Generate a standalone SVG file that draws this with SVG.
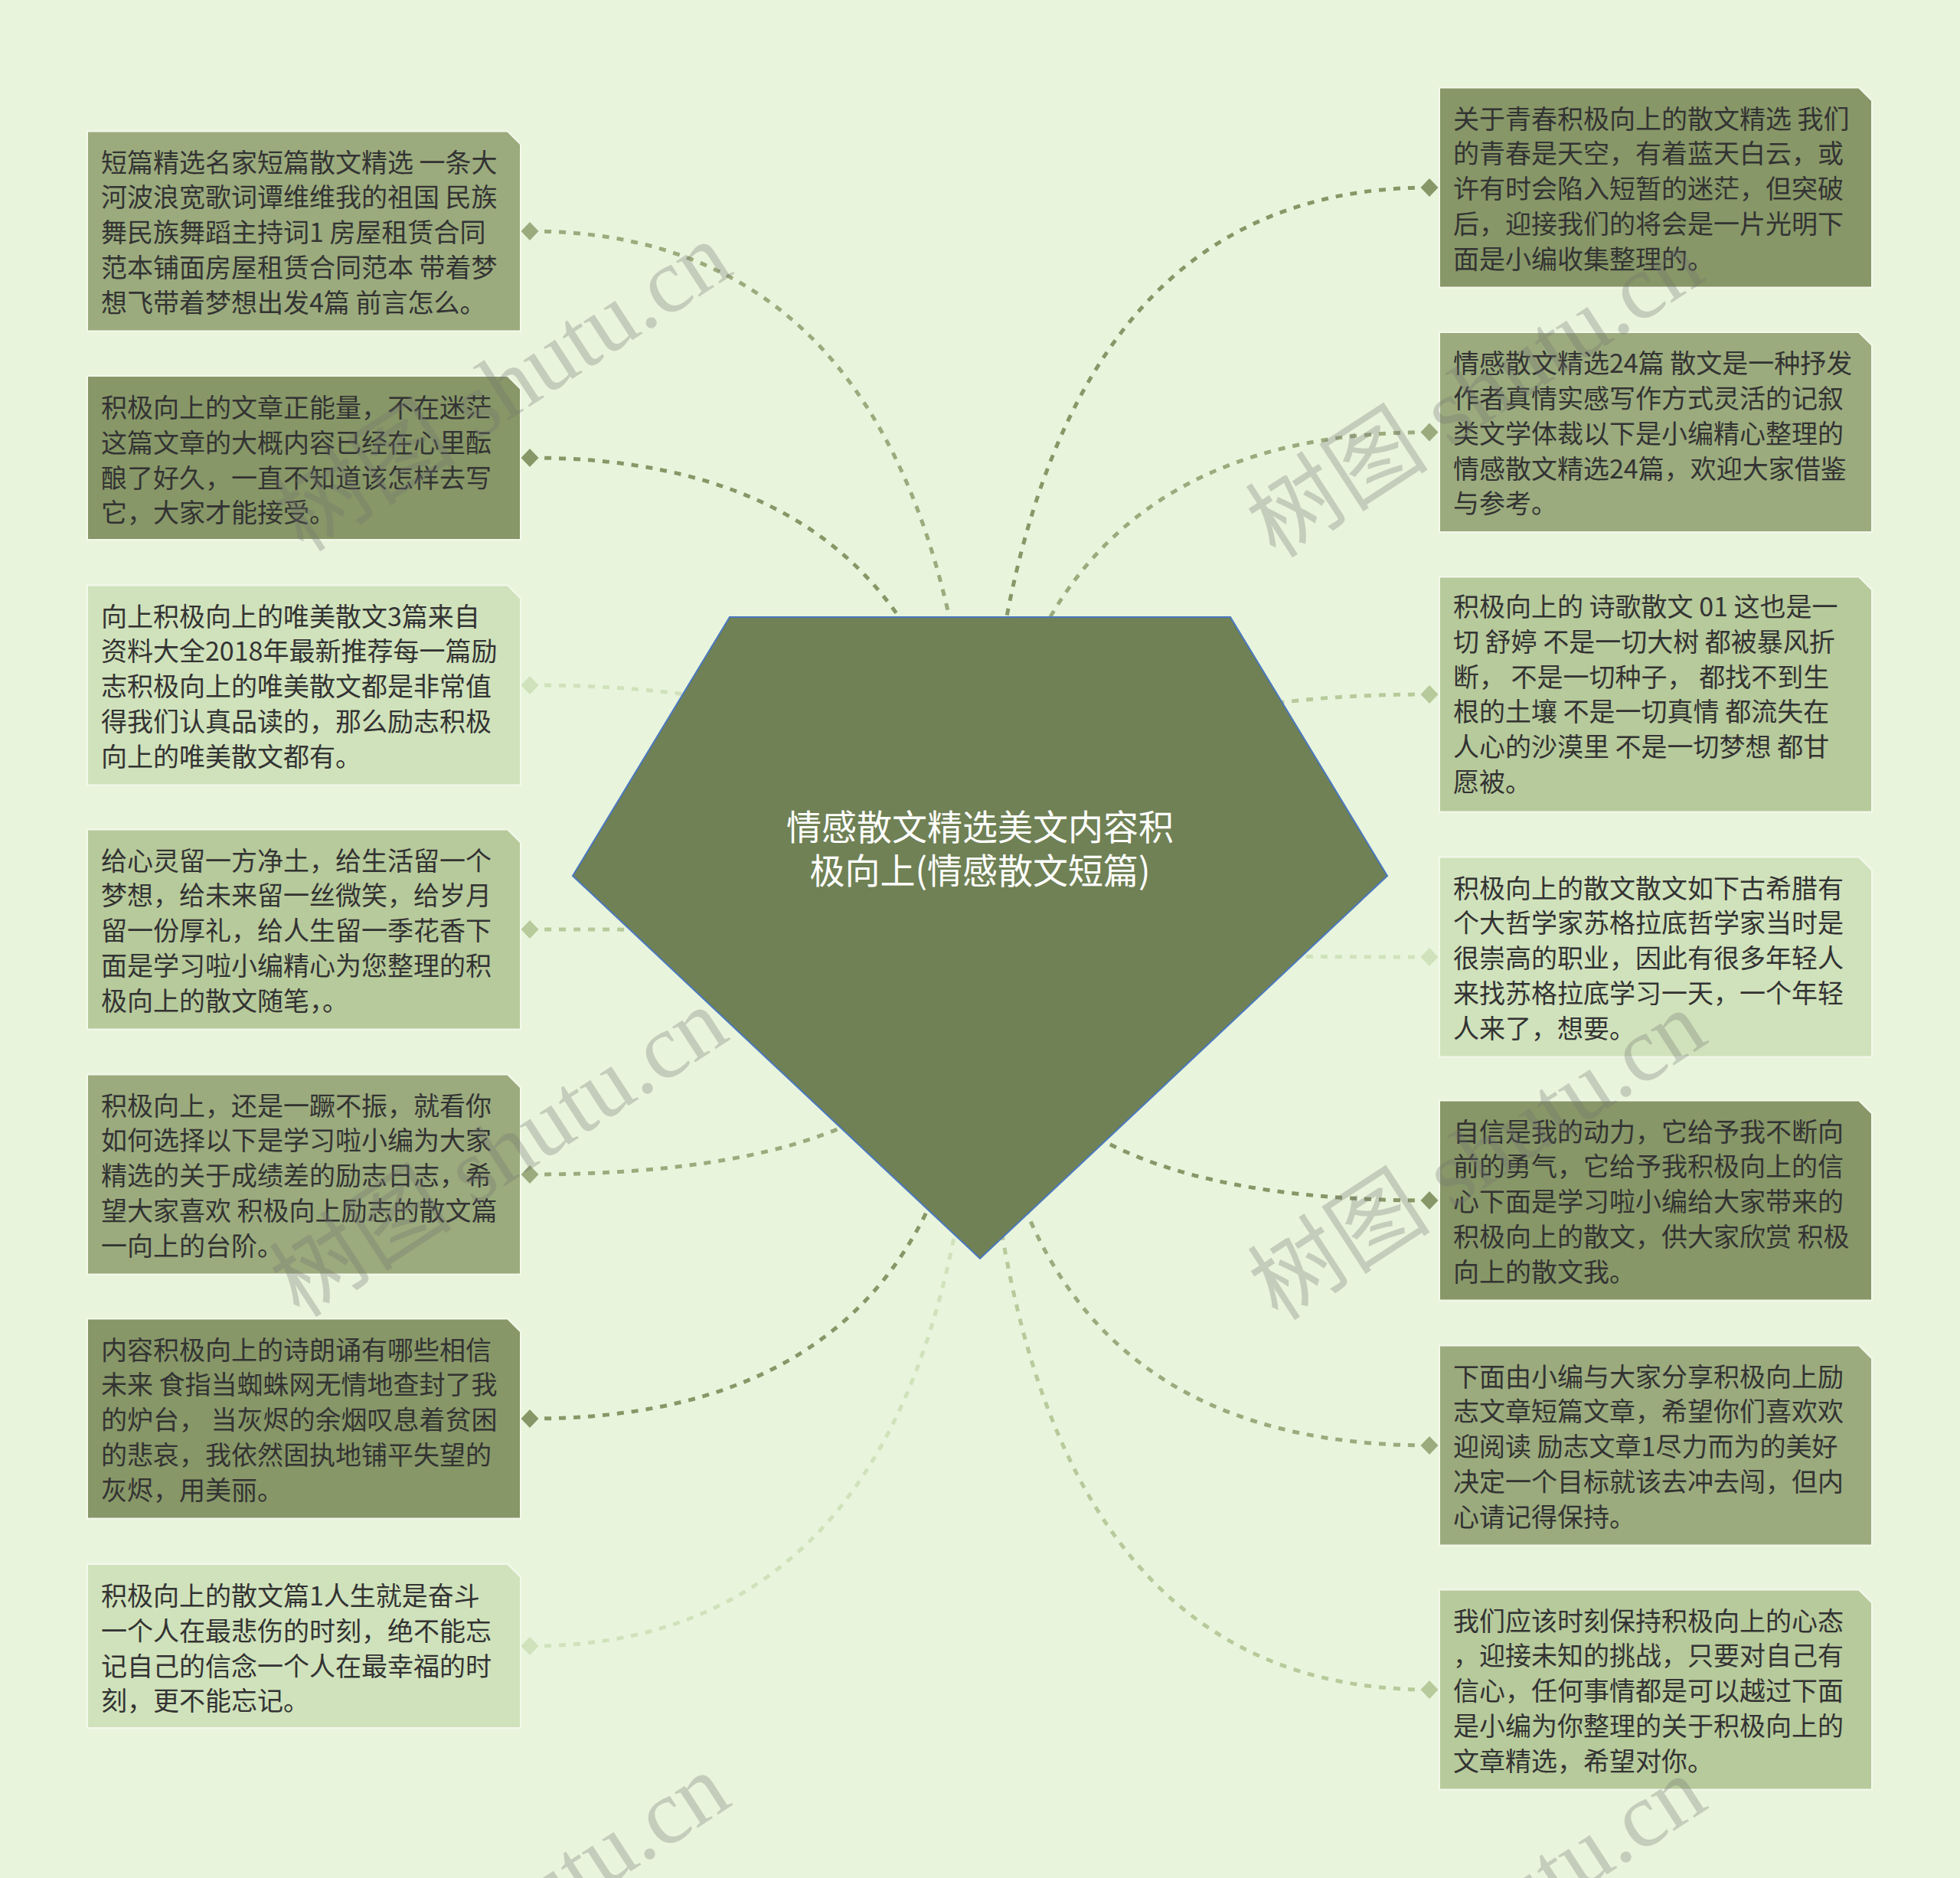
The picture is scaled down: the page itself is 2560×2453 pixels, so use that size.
<svg xmlns="http://www.w3.org/2000/svg" width="2560" height="2453" viewBox="0 0 2560 2453">
<style>
.bg{fill:#e8f5dc}
.box{stroke:#f3f8ec;stroke-width:2}
.dark{fill:#879767}
.mid{fill:#9bab7d}
.light{fill:#b7ca9b}
.pale{fill:#d0e2bb}
.t{font-family:"Noto Sans CJK SC","Noto Sans",sans-serif;font-size:34px;fill:#333333}
.link{fill:none;stroke-width:5;stroke-dasharray:9 10}
.ldark{stroke:#879767}
.lmid{stroke:#9bab7d}
.llight{stroke:#b7ca9b}
.lpale{stroke:#d0e2bb}
.center{fill:#6f8155;stroke:#4a78c0;stroke-width:2}
.ct{font-family:"Noto Sans CJK SC","Noto Sans",sans-serif;font-size:46px;fill:#ffffff;text-anchor:middle}
.wm{font-family:"Liberation Serif","Noto Sans CJK SC",serif;font-size:120px;fill:#707070;fill-opacity:0.3;text-anchor:middle}
</style>
<defs>
<marker id="mDark" markerUnits="userSpaceOnUse" viewBox="-12 -12 24 24" markerWidth="24" markerHeight="24" refX="0" refY="0" orient="0"><path d="M-11.5,0 L0,-12 L11.5,0 L0,12 Z" fill="#879767"/></marker>
<marker id="mMid" markerUnits="userSpaceOnUse" viewBox="-12 -12 24 24" markerWidth="24" markerHeight="24" refX="0" refY="0" orient="0"><path d="M-11.5,0 L0,-12 L11.5,0 L0,12 Z" fill="#9bab7d"/></marker>
<marker id="mLight" markerUnits="userSpaceOnUse" viewBox="-12 -12 24 24" markerWidth="24" markerHeight="24" refX="0" refY="0" orient="0"><path d="M-11.5,0 L0,-12 L11.5,0 L0,12 Z" fill="#b7ca9b"/></marker>
<marker id="mPale" markerUnits="userSpaceOnUse" viewBox="-12 -12 24 24" markerWidth="24" markerHeight="24" refX="0" refY="0" orient="0"><path d="M-11.5,0 L0,-12 L11.5,0 L0,12 Z" fill="#d0e2bb"/></marker>
</defs>
<rect class="bg" x="0" y="0" width="2560" height="2453"/>

<g id="connectors">
<path class="link lmid" marker-start="url(#mMid)" d="M692,302 Q1280,302 1280,1225"/>
<path class="link ldark" marker-start="url(#mDark)" d="M692,598 Q1280,598 1280,1225"/>
<path class="link lpale" marker-start="url(#mPale)" d="M692,895 Q1280,895 1280,1225"/>
<path class="link llight" marker-start="url(#mLight)" d="M692,1214 Q1280,1214 1280,1225"/>
<path class="link lmid" marker-start="url(#mMid)" d="M692,1534 Q1280,1534 1280,1225"/>
<path class="link ldark" marker-start="url(#mDark)" d="M692,1853 Q1280,1853 1280,1225"/>
<path class="link lpale" marker-start="url(#mPale)" d="M692,2150 Q1280,2150 1280,1225"/>
<path class="link ldark" marker-start="url(#mDark)" d="M1867,245 Q1280,245 1280,1225"/>
<path class="link lmid" marker-start="url(#mMid)" d="M1867,564.5 Q1280,564.5 1280,1225"/>
<path class="link llight" marker-start="url(#mLight)" d="M1867,907 Q1280,907 1280,1225"/>
<path class="link lpale" marker-start="url(#mPale)" d="M1867,1250 Q1280,1250 1280,1225"/>
<path class="link ldark" marker-start="url(#mDark)" d="M1867,1568 Q1280,1568 1280,1225"/>
<path class="link lmid" marker-start="url(#mMid)" d="M1867,1888 Q1280,1888 1280,1225"/>
<path class="link llight" marker-start="url(#mLight)" d="M1867,2207 Q1280,2207 1280,1225"/>
</g>

<g id="center-node">
<polygon class="center" points="953,806 1607,806 1812,1144 1280,1644 748,1144"/>
<text class="ct" x="1280" y="1097"><tspan x="1280">情感散文精选美文内容积</tspan><tspan x="1280" dy="57">极向上(情感散文短篇)</tspan></text>
</g>

<g id="node-l1">
<path class="box mid" d="M114,171.5 H663 L680,188.5 V432.5 H114 Z"/>
<text class="t" x="132" y="224.6"><tspan x="132">短篇精选名家短篇散文精选 一条大</tspan><tspan x="132" dy="45.8">河波浪宽歌词谭维维我的祖国 民族</tspan><tspan x="132" dy="45.8">舞民族舞蹈主持词1 房屋租赁合同</tspan><tspan x="132" dy="45.8">范本铺面房屋租赁合同范本 带着梦</tspan><tspan x="132" dy="45.8">想飞带着梦想出发4篇 前言怎么。</tspan></text>
</g>
<g id="node-l2">
<path class="box dark" d="M114,491 H663 L680,508 V705 H114 Z"/>
<text class="t" x="132" y="545"><tspan x="132">积极向上的文章正能量，不在迷茫</tspan><tspan x="132" dy="45.8">这篇文章的大概内容已经在心里酝</tspan><tspan x="132" dy="45.8">酿了好久，一直不知道该怎样去写</tspan><tspan x="132" dy="45.8">它，大家才能接受。</tspan></text>
</g>
<g id="node-l3">
<path class="box pale" d="M114,764.5 H663 L680,781.5 V1025.5 H114 Z"/>
<text class="t" x="132" y="817.6"><tspan x="132">向上积极向上的唯美散文3篇来自</tspan><tspan x="132" dy="45.8">资料大全2018年最新推荐每一篇励</tspan><tspan x="132" dy="45.8">志积极向上的唯美散文都是非常值</tspan><tspan x="132" dy="45.8">得我们认真品读的，那么励志积极</tspan><tspan x="132" dy="45.8">向上的唯美散文都有。</tspan></text>
</g>
<g id="node-l4">
<path class="box light" d="M114,1083.5 H663 L680,1100.5 V1344.5 H114 Z"/>
<text class="t" x="132" y="1136.6"><tspan x="132">给心灵留一方净土，给生活留一个</tspan><tspan x="132" dy="45.8">梦想，给未来留一丝微笑，给岁月</tspan><tspan x="132" dy="45.8">留一份厚礼，给人生留一季花香下</tspan><tspan x="132" dy="45.8">面是学习啦小编精心为您整理的积</tspan><tspan x="132" dy="45.8">极向上的散文随笔，。</tspan></text>
</g>
<g id="node-l5">
<path class="box mid" d="M114,1403.5 H663 L680,1420.5 V1664.5 H114 Z"/>
<text class="t" x="132" y="1456.6"><tspan x="132">积极向上，还是一蹶不振，就看你</tspan><tspan x="132" dy="45.8">如何选择以下是学习啦小编为大家</tspan><tspan x="132" dy="45.8">精选的关于成绩差的励志日志，希</tspan><tspan x="132" dy="45.8">望大家喜欢 积极向上励志的散文篇</tspan><tspan x="132" dy="45.8">一向上的台阶。</tspan></text>
</g>
<g id="node-l6">
<path class="box dark" d="M114,1722.5 H663 L680,1739.5 V1983.5 H114 Z"/>
<text class="t" x="132" y="1775.6"><tspan x="132">内容积极向上的诗朗诵有哪些相信</tspan><tspan x="132" dy="45.8">未来 食指当蜘蛛网无情地查封了我</tspan><tspan x="132" dy="45.8">的炉台， 当灰烬的余烟叹息着贫困</tspan><tspan x="132" dy="45.8">的悲哀，我依然固执地铺平失望的</tspan><tspan x="132" dy="45.8">灰烬，用美丽。</tspan></text>
</g>
<g id="node-l7">
<path class="box pale" d="M114,2043 H663 L680,2060 V2257 H114 Z"/>
<text class="t" x="132" y="2097"><tspan x="132">积极向上的散文篇1人生就是奋斗</tspan><tspan x="132" dy="45.8">一个人在最悲伤的时刻，绝不能忘</tspan><tspan x="132" dy="45.8">记自己的信念一个人在最幸福的时</tspan><tspan x="132" dy="45.8">刻，更不能忘记。</tspan></text>
</g>

<g id="node-r1">
<path class="box dark" d="M1880,114.5 H2428 L2445,131.5 V375.5 H1880 Z"/>
<text class="t" x="1898" y="167.6"><tspan x="1898">关于青春积极向上的散文精选 我们</tspan><tspan x="1898" dy="45.8">的青春是天空，有着蓝天白云，或</tspan><tspan x="1898" dy="45.8">许有时会陷入短暂的迷茫，但突破</tspan><tspan x="1898" dy="45.8">后，迎接我们的将会是一片光明下</tspan><tspan x="1898" dy="45.8">面是小编收集整理的。</tspan></text>
</g>
<g id="node-r2">
<path class="box mid" d="M1880,434 H2428 L2445,451 V695 H1880 Z"/>
<text class="t" x="1898" y="487.1"><tspan x="1898">情感散文精选24篇 散文是一种抒发</tspan><tspan x="1898" dy="45.8">作者真情实感写作方式灵活的记叙</tspan><tspan x="1898" dy="45.8">类文学体裁以下是小编精心整理的</tspan><tspan x="1898" dy="45.8">情感散文精选24篇，欢迎大家借鉴</tspan><tspan x="1898" dy="45.8">与参考。</tspan></text>
</g>
<g id="node-r3">
<path class="box light" d="M1880,753.5 H2428 L2445,770.5 V1060.5 H1880 Z"/>
<text class="t" x="1898" y="805"><tspan x="1898">积极向上的 诗歌散文 01 这也是一</tspan><tspan x="1898" dy="45.8">切 舒婷 不是一切大树 都被暴风折</tspan><tspan x="1898" dy="45.8">断， 不是一切种子， 都找不到生</tspan><tspan x="1898" dy="45.8">根的土壤 不是一切真情 都流失在</tspan><tspan x="1898" dy="45.8">人心的沙漠里 不是一切梦想 都甘</tspan><tspan x="1898" dy="45.8">愿被。</tspan></text>
</g>
<g id="node-r4">
<path class="box pale" d="M1880,1119.5 H2428 L2445,1136.5 V1380.5 H1880 Z"/>
<text class="t" x="1898" y="1172.6"><tspan x="1898">积极向上的散文散文如下古希腊有</tspan><tspan x="1898" dy="45.8">个大哲学家苏格拉底哲学家当时是</tspan><tspan x="1898" dy="45.8">很崇高的职业，因此有很多年轻人</tspan><tspan x="1898" dy="45.8">来找苏格拉底学习一天，一个年轻</tspan><tspan x="1898" dy="45.8">人来了，想要。</tspan></text>
</g>
<g id="node-r5">
<path class="box dark" d="M1880,1437.5 H2428 L2445,1454.5 V1698.5 H1880 Z"/>
<text class="t" x="1898" y="1490.6"><tspan x="1898">自信是我的动力，它给予我不断向</tspan><tspan x="1898" dy="45.8">前的勇气，它给予我积极向上的信</tspan><tspan x="1898" dy="45.8">心下面是学习啦小编给大家带来的</tspan><tspan x="1898" dy="45.8">积极向上的散文，供大家欣赏 积极</tspan><tspan x="1898" dy="45.8">向上的散文我。</tspan></text>
</g>
<g id="node-r6">
<path class="box mid" d="M1880,1757.5 H2428 L2445,1774.5 V2018.5 H1880 Z"/>
<text class="t" x="1898" y="1810.6"><tspan x="1898">下面由小编与大家分享积极向上励</tspan><tspan x="1898" dy="45.8">志文章短篇文章，希望你们喜欢欢</tspan><tspan x="1898" dy="45.8">迎阅读 励志文章1尽力而为的美好</tspan><tspan x="1898" dy="45.8">决定一个目标就该去冲去闯，但内</tspan><tspan x="1898" dy="45.8">心请记得保持。</tspan></text>
</g>
<g id="node-r7">
<path class="box light" d="M1880,2076.5 H2428 L2445,2093.5 V2337.5 H1880 Z"/>
<text class="t" x="1898" y="2129.6"><tspan x="1898">我们应该时刻保持积极向上的心态</tspan><tspan x="1898" dy="45.8">，迎接未知的挑战，只要对自己有</tspan><tspan x="1898" dy="45.8">信心，任何事情都是可以越过下面</tspan><tspan x="1898" dy="45.8">是小编为你整理的关于积极向上的</tspan><tspan x="1898" dy="45.8">文章精选，希望对你。</tspan></text>
</g>

<g id="watermarks">
<text class="wm" x="657" y="546" transform="rotate(-33 657 506)">树图 shutu.cn</text>
<text class="wm" x="1927" y="554" transform="rotate(-33 1927 514)">树图 shutu.cn</text>
<text class="wm" x="652" y="1546" transform="rotate(-33 652 1506)">树图 shutu.cn</text>
<text class="wm" x="1930" y="1550" transform="rotate(-33 1930 1510)">树图 shutu.cn</text>
<text class="wm" x="655" y="2546" transform="rotate(-33 655 2506)">树图 shutu.cn</text>
<text class="wm" x="1930" y="2550" transform="rotate(-33 1930 2510)">树图 shutu.cn</text>
</g>
</svg>
